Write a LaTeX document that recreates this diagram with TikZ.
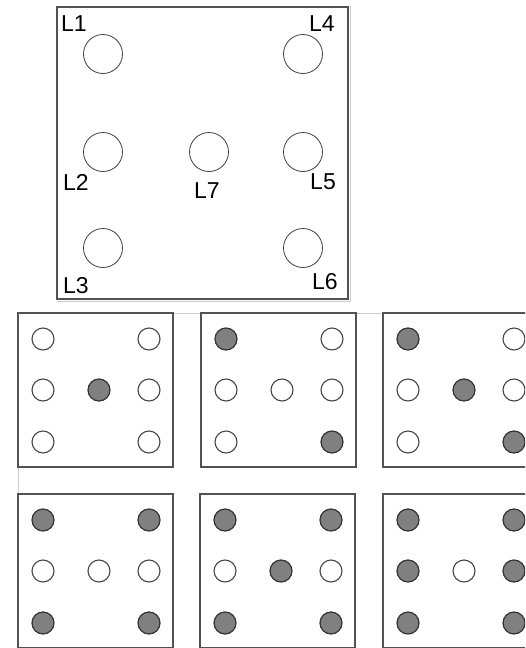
\documentclass[tikz,border=0pt]{standalone}
\usepackage{fontspec}
\setmainfont{Liberation Sans}
\begin{document}
\begin{tikzpicture}[x=1pt,y=-1pt,
  frame/.style={draw=black!68, line width=1.2pt},
  faint/.style={draw=black!20, line width=0.8pt},
  bigc/.style={circle, draw=black!75, line width=0.8pt, minimum size=39pt, inner sep=0pt},
  lab/.style={inner sep=0pt, font=\fontsize{23}{27}\selectfont},
  c0/.style={circle, draw=black!72, fill=white, line width=1.1pt, minimum size=22pt, inner sep=0pt},
  c1/.style={circle, draw=black!80, fill=black!50, line width=1.2pt, minimum size=22pt, inner sep=0pt}]
\useasboundingbox (0,0) rectangle (525,648);
\clip (0,0) rectangle (525,648);
\fill[white] (0,0) rectangle (525,648);

% faint table/border lines
\draw[faint] (57,301) -- (350,301) -- (350,6);
\draw[faint] (18,313) -- (525,313);
\draw[faint] (18,313) -- (18,648);

% top labelled panel
\draw[frame] (57,7) rectangle (348,299);
\node[bigc] (L1) at (103,54) {};
\node[bigc] (L4) at (303,54) {};
\node[bigc] (L2) at (103,152) {};
\node[bigc] (L7) at (209,152) {};
\node[bigc] (L5) at (303,152) {};
\node[bigc] (L3) at (103,248) {};
\node[bigc] (L6) at (303,248) {};
\node[lab] (tL1) at (74,24) {L1};
\node[lab] (tL4) at (322,24) {L4};
\node[lab] (tL2) at (76,182) {L2};
\node[lab] (tL7) at (207,191) {L7};
\node[lab] (tL5) at (323,182) {L5};
\node[lab] (tL3) at (76,286) {L3};
\node[lab] (tL6) at (325,282) {L6};

% small panels: name, position, states of L1..L7
\newcommand{\lamppanel}[9]{%
  \begin{scope}[shift={#2}]
    \draw[frame] (0,0) rectangle (155,154);
    \node[#3] (#1-1) at (25,26) {};
    \node[#4] (#1-2) at (25,77) {};
    \node[#5] (#1-3) at (25,129) {};
    \node[#6] (#1-4) at (131,26) {};
    \node[#7] (#1-5) at (131,77) {};
    \node[#8] (#1-6) at (131,129) {};
    \node[#9] (#1-7) at (81,77) {};
  \end{scope}}

\lamppanel{a}{(18,313)}{c0}{c0}{c0}{c0}{c0}{c0}{c1}
\lamppanel{b}{(201,313)}{c1}{c0}{c0}{c0}{c0}{c1}{c0}
\lamppanel{c}{(383,313)}{c1}{c0}{c0}{c0}{c0}{c1}{c1}
\lamppanel{d}{(18,494)}{c1}{c0}{c1}{c1}{c0}{c1}{c0}
\lamppanel{e}{(200,494)}{c1}{c0}{c1}{c1}{c0}{c1}{c1}
\lamppanel{f}{(383,494)}{c1}{c1}{c1}{c1}{c1}{c1}{c0}
\end{tikzpicture}
\end{document}
